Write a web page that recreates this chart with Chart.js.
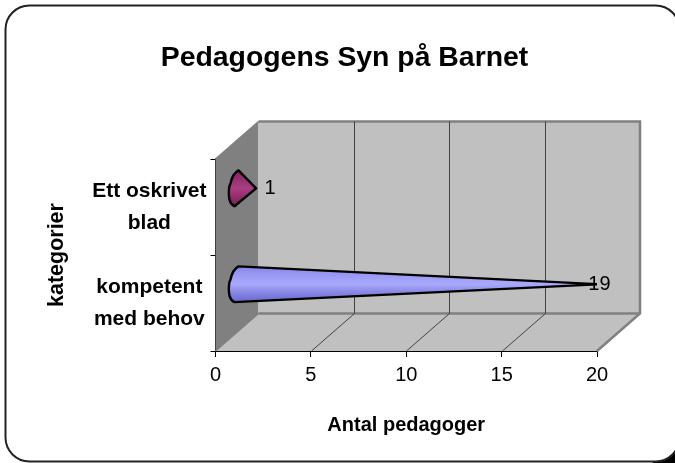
<!DOCTYPE html>
<html><head><meta charset="utf-8">
<style>html,body{margin:0;padding:0;background:#fff;overflow:hidden}#w{width:675px;height:463px;position:relative}</style>
<script src="https://cdn.jsdelivr.net/npm/chart.js@4"></script>
</head><body><div id="w"><canvas id="c" width="675" height="463"></canvas></div>
<script>
const categories = [["Ett oskrivet","blad"],["kompetent","med behov"]];
const seriesValues = [1,19];
const dataLabels = ["1","19"];
const titleText = "Pedagogens Syn på Barnet";
const xAxisTitle = "Antal pedagoger";
const yAxisTitle = "kategorier";
const barColors = ["#a8407f","#9c9cf4"];
const FF = '"Liberation Sans", Arial, sans-serif';
const DX = 43, DY = -37.5;

function roundRect(ctx,x,y,w,h,r){ctx.beginPath();ctx.roundRect(x,y,w,h,r);}

const shades = {
  "#a8407f":["#84245c","#98306f","#a93e82","#932c6a","#7c2056"],
  "#9c9cf4":["#8484e6","#9a9af6","#a8a8fc","#8484e2","#6868ce"]
};

Chart.BarElement.prototype.draw = function(ctx){
  const cx = this.base + DX/2, cy = this.y + DY/2, r = this.height/2;
  const tipX = this.x + DX/2, tipY = cy;
  ctx.save();
  ctx.beginPath();
  ctx.moveTo(tipX,tipY);
  ctx.lineTo(cx+1,cy-r);
  ctx.bezierCurveTo(cx-4,cy-r*0.85,cx-6,cy-r*0.55,cx-7,cy-r*0.25);
  ctx.bezierCurveTo(cx-9,cy-r*0.1,cx-9,cy+r*0.4,cx-8,cy+r*0.65);
  ctx.bezierCurveTo(cx-7,cy+r*0.85,cx-5,cy+r*0.95,cx-3,cy+r);
  ctx.closePath();
  const g = ctx.createLinearGradient(0,cy-r,0,cy+r);
  const s = shades[this.options.backgroundColor] || [this.options.backgroundColor];
  s.forEach((c,i)=>g.addColorStop(s.length>1?i/(s.length-1):0,c));
  ctx.fillStyle = g; ctx.fill();
  ctx.lineWidth = 2.4; ctx.lineJoin='round'; ctx.strokeStyle = '#000'; ctx.stroke();
  ctx.restore();
};

const scene = {
  id:'scene',
  afterLayout(chart){
    const t = chart.titleBlock;
    if(t){ t.left += 46; t.right += 46; }
  },
  beforeDraw(chart){
    const ctx = chart.ctx, W = chart.width, H = chart.height;
    ctx.save();
    ctx.fillStyle='#fff'; ctx.fillRect(0,0,W,H);
    ctx.fillStyle='#000';
    ctx.beginPath();ctx.moveTo(W,H);ctx.lineTo(W,447);ctx.lineTo(652,H);ctx.closePath();ctx.fill();
    ctx.lineWidth=2; ctx.strokeStyle='#222';
    roundRect(ctx,5.5,5.5,674,456,24);
    ctx.fillStyle='#fff'; ctx.fill(); ctx.stroke();
    ctx.restore();
  },
  beforeDatasetsDraw(chart){
    const ctx = chart.ctx, a = chart.chartArea, x = chart.scales.x;
    const l=a.left,r=a.right,t=a.top,b=a.bottom;
    ctx.save();
    ctx.fillStyle='#808080';
    ctx.beginPath();ctx.moveTo(l,t);ctx.lineTo(l+DX,t+DY);ctx.lineTo(l+DX,b+DY);ctx.lineTo(l,b);ctx.closePath();ctx.fill();
    ctx.fillStyle='#c0c0c0';
    ctx.fillRect(l+DX,t+DY,r-l,b-t);
    ctx.beginPath();ctx.moveTo(l,b);ctx.lineTo(l+DX,b+DY);ctx.lineTo(r+DX,b+DY);ctx.lineTo(r,b);ctx.closePath();ctx.fill();
    ctx.strokeStyle='#808080';ctx.lineWidth=2.5;
    ctx.beginPath();ctx.moveTo(l+DX,t+DY);ctx.lineTo(r+DX,t+DY);ctx.lineTo(r+DX,b+DY);ctx.lineTo(r,b);ctx.stroke();
    ctx.beginPath();ctx.moveTo(l+DX,b+DY);ctx.lineTo(r+DX,b+DY);ctx.stroke();
    ctx.lineWidth=1.5;
    ctx.beginPath();ctx.moveTo(l,t);ctx.lineTo(l+DX,t+DY);ctx.stroke();
    ctx.beginPath();ctx.moveTo(l,b);ctx.lineTo(l+DX,b+DY);ctx.stroke();
    ctx.lineWidth=1;ctx.strokeStyle='#404040';
    x.ticks.forEach(tk=>{
      if(tk.value===x.min||tk.value===x.max)return;
      const p=Math.round(x.getPixelForValue(tk.value))+0.5;
      ctx.beginPath();ctx.moveTo(p,b);ctx.lineTo(p+DX,b+DY);ctx.lineTo(p+DX,t+DY);ctx.stroke();
    });
    ctx.restore();
  },
  afterDatasetsDraw(chart){
    const ctx = chart.ctx, m = chart.getDatasetMeta(0);
    ctx.save();
    ctx.font='20px '+FF;ctx.fillStyle='#000';ctx.textBaseline='middle';ctx.textAlign='center';
    m.data.forEach((el,i)=>{
      const tx = el.x+DX/2 + (dataLabels[i].length>1?0:14);
      ctx.fillText(dataLabels[i],tx,el.y+DY/2);
    });
    ctx.restore();
  }
};

new Chart(document.getElementById('c'),{
  type:'bar',
  data:{labels:categories,datasets:[{label:xAxisTitle,data:seriesValues,backgroundColor:barColors,categoryPercentage:1,barPercentage:0.373}]},
  options:{
    indexAxis:'y',responsive:false,animation:false,
    layout:{padding:{right:78}},
    plugins:{
      legend:{display:false},tooltip:{enabled:false},
      title:{display:true,text:titleText,color:'#000',font:{family:FF,size:28.4,weight:'bold'},padding:{top:41,bottom:84}}
    },
    scales:{
      x:{min:0,max:20,
        afterFit(s){s.height=112;},
        ticks:{stepSize:5,color:'#000',font:{family:FF,size:20},padding:6,maxRotation:0},
        grid:{drawOnChartArea:false,color:'#000',tickLength:6,lineWidth:1},
        border:{color:'#000',width:2},
        title:{display:true,text:xAxisTitle,color:'#000',font:{family:FF,size:20,weight:'bold'},padding:{top:0,bottom:26}}
      },
      y:{
        afterFit(s){s.width=215.5;},
        ticks:{color:'#000',font:{family:FF,size:21,weight:'bold',lineHeight:1.52},padding:4,crossAlign:'center',autoSkip:false},
        grid:{drawOnChartArea:false,color:'#000',tickLength:5,lineWidth:1,offset:true},
        border:{color:'#000',width:2},
        title:{display:true,text:yAxisTitle,color:'#000',font:{family:FF,size:21.5,weight:'bold'},padding:{top:44,bottom:0}}
      }
    }
  },
  plugins:[scene]
});
</script></body></html>
